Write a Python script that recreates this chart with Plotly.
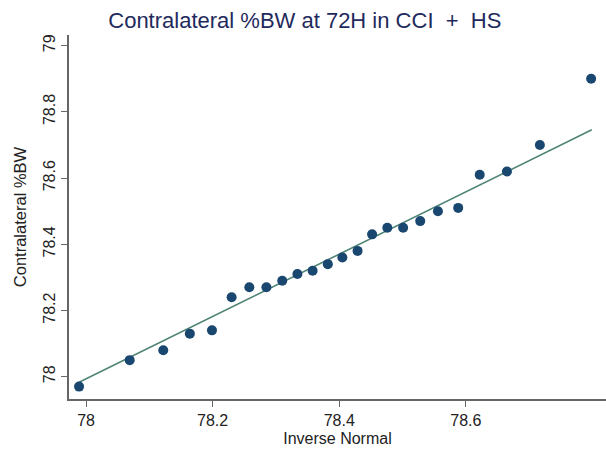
import plotly.graph_objects as go

# Q-Q plot data (inverse normal vs observed)
inv_normal = [77.989, 78.069, 78.122, 78.164, 78.199, 78.230, 78.258, 78.285,
              78.310, 78.334, 78.358, 78.382, 78.405, 78.429, 78.452, 78.476,
              78.501, 78.528, 78.556, 78.588, 78.622, 78.665, 78.717, 78.798]
contra_bw = [77.97, 78.05, 78.08, 78.13, 78.14, 78.24, 78.27, 78.27,
             78.29, 78.31, 78.32, 78.34, 78.36, 78.38, 78.43, 78.45,
             78.45, 78.47, 78.50, 78.51, 78.61, 78.62, 78.70, 78.90]

# reference line endpoints
fit_x = [77.989, 78.799]
fit_y = [77.983, 78.746]

x_ticks = [78, 78.2, 78.4, 78.6]
x_tick_labels = ["78", "78.2", "78.4", "78.6"]
y_ticks = [78, 78.2, 78.4, 78.6, 78.8, 79]
y_tick_labels = ["78", "78.2", "78.4", "78.6", "78.8", "79"]

fig = go.Figure()
fig.add_trace(go.Scatter(x=fit_x, y=fit_y, mode="lines",
                         line=dict(color="#4f8476", width=1.6),
                         showlegend=False))
fig.add_trace(go.Scatter(x=inv_normal, y=contra_bw, mode="markers",
                         marker=dict(color="#1a476f", size=10),
                         showlegend=False))

axis_common = dict(showline=True, linecolor="#666666", linewidth=1.5,
                   ticks="outside", ticklen=6, tickcolor="#666666", tickwidth=1,
                   showgrid=False, zeroline=False,
                   tickfont=dict(size=16, color="#222222"),
                   mirror=False)

fig.update_layout(
    width=606, height=453,
    margin=dict(l=69, r=0, t=35, b=54),
    paper_bgcolor="white", plot_bgcolor="white",
    font=dict(family="Liberation Sans, Arial, sans-serif", color="#222222"),
    title=dict(text="Contralateral %BW at 72H in CCI\u00a0\u00a0+\u00a0\u00a0HS",
               x=0.503, xanchor="center", y=0.956, yanchor="middle",
               font=dict(size=22, color="#1f2a5c")),
    xaxis=dict(range=[77.9731, 78.8215], tickvals=x_ticks, ticktext=x_tick_labels,
               title=dict(text="Inverse Normal", font=dict(size=16, color="#222222"),
                          standoff=5),
               **axis_common),
    yaxis=dict(range=[77.9326, 79.0323], tickvals=y_ticks, ticktext=y_tick_labels,
               tickangle=-90,
               title=dict(text="Contralateral %BW", font=dict(size=16.5, color="#222222"),
                          standoff=10),
               **axis_common),
)

fig.write_html("out.html")
